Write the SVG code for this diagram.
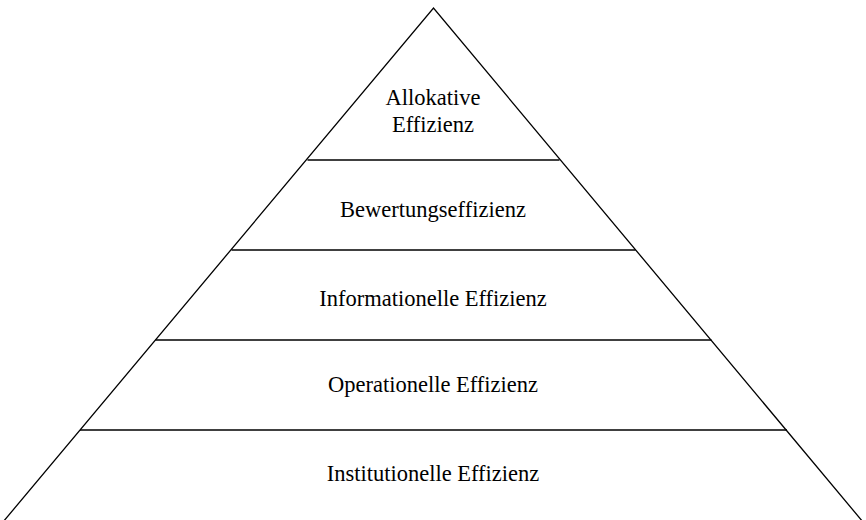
<svg xmlns="http://www.w3.org/2000/svg" width="866" height="520" viewBox="0 0 866 520">
  <style>
    .edge { stroke: #000; stroke-width: 1.3; fill: none; }
    .lbl { font-family: "Liberation Serif", "Times New Roman", serif; font-size: 22.5px; fill: #000; text-anchor: middle; }
  </style>
  <rect width="866" height="520" fill="#fff"/>
  <!-- outer triangle and tier dividers -->
  <g id="connectors">
    <polyline class="edge" points="3,522 433.5,8 863,522"/>
    <line class="edge" x1="307.5" y1="160" x2="559.5" y2="160"/>
    <line class="edge" x1="231.5" y1="250" x2="635.5" y2="250"/>
    <line class="edge" x1="155.5" y1="340" x2="711.5" y2="340"/>
    <line class="edge" x1="80" y1="430" x2="787" y2="430"/>
  </g>
  <g id="tier-allokativ">
    <text class="lbl" x="433" y="105">Allokative</text>
    <text class="lbl" x="433" y="132">Effizienz</text>
  </g>
  <g id="tier-bewertung">
    <text class="lbl" x="433" y="217">Bewertungseffizienz</text>
  </g>
  <g id="tier-informationell">
    <text class="lbl" x="433" y="306">Informationelle Effizienz</text>
  </g>
  <g id="tier-operationell">
    <text class="lbl" x="433" y="392">Operationelle Effizienz</text>
  </g>
  <g id="tier-institutionell">
    <text class="lbl" x="433" y="481">Institutionelle Effizienz</text>
  </g>
</svg>
